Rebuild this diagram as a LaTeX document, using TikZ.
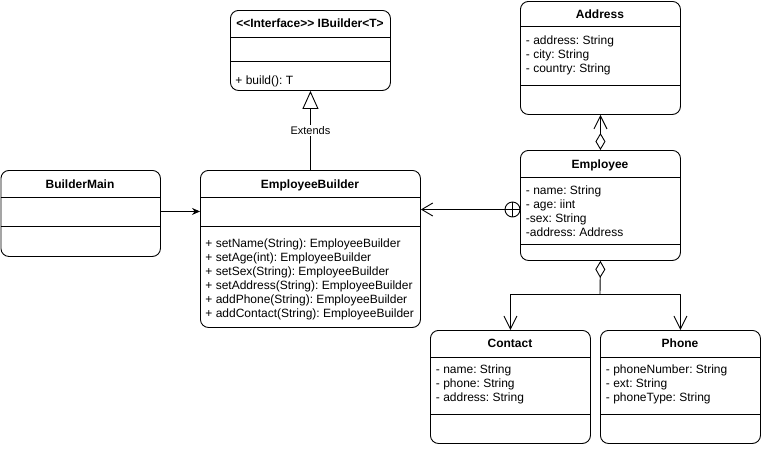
\documentclass[tikz,border=0pt]{standalone}
\usepackage{fontspec}
\setmainfont{Liberation Sans}
\usetikzlibrary{arrows.meta}
\frenchspacing
\begin{document}
\begin{tikzpicture}[x=1pt, y=-1pt, line width=0.9pt, line join=round, font=\fontsize{12}{14}\selectfont,
	cls/.style={draw, rounded corners=8pt, inner sep=0pt, anchor=north west},
	ttl/.style={anchor=base, font=\fontsize{12}{14}\selectfont\bfseries},
	body/.style={anchor=north west, inner sep=0pt, align=left, execute at begin node=\strut},
	openarr/.style={-{Straight Barb[length=13pt,width=13pt]}},
	agg/.style={{Diamond[open,length=17pt,width=10pt]}-},
	aggarr/.style={{Diamond[open,length=17pt,width=10pt]}-{Straight Barb[length=13pt,width=13pt]}}]
\useasboundingbox (0,0) rectangle (761,448);
% classes
\node[cls, minimum width=160pt, minimum height=80pt] (ibuilder) at (230,10) {};
\node[cls, minimum width=160pt, minimum height=113pt] (addr) at (520,1) {};
\node[cls, minimum width=160pt, minimum height=110pt] (emp) at (520,150) {};
\node[cls, minimum width=159.5pt, minimum height=86pt] (main) at (0.5,170) {};
\node[cls, minimum width=220pt, minimum height=157pt] (eb) at (200,170) {};
\node[cls, minimum width=160pt, minimum height=113pt] (contact) at (430,330) {};
\node[cls, minimum width=160pt, minimum height=113pt] (phone) at (600,330) {};
% compartments
\draw	(ibuilder.north west) ++(0,27) -- ++(160,0)	(ibuilder.north west) ++(0,51) -- ++(160,0);
\draw	(addr.north west) ++(0,25) -- ++(160,0)	(addr.north west) ++(0,84) -- ++(160,0);
\draw	(emp.north west) ++(0,27) -- ++(160,0)	(emp.north west) ++(0,94) -- ++(160,0);
\draw	(main.north west) ++(0,27) -- ++(159.5,0)	(main.north west) ++(0,56) -- ++(159.5,0);
\draw	(eb.north west) ++(0,27) -- ++(220,0)	(eb.north west) ++(0,56) -- ++(220,0);
\draw	(contact.north west) ++(0,27) -- ++(160,0)	(contact.north west) ++(0,84) -- ++(160,0);
\draw	(phone.north west) ++(0,27) -- ++(160,0)	(phone.north west) ++(0,84) -- ++(160,0);
% titles
\node[ttl] (ibuilderT) at (310,27.3) {<{}<Interface>{}> IBuilder<T>};
\node[ttl] (addrT) at (600,18.3) {Address};
\node[ttl] (empT) at (600,168.3) {Employee};
\node[ttl] (mainT) at (80,188.3) {BuilderMain};
\node[ttl] (ebT) at (310,188.3) {EmployeeBuilder};
\node[ttl] (contactT) at (510,347.3) {Contact};
\node[ttl] (phoneT) at (680,347.3) {Phone};
% members
\node[body] (ibuilderM) at (235,74) {+ build(): T};
\node[body] (addrA) at (525.5,35) {- address: String\\- city: String\\- country: String};
\node[body] (empA) at (525.5,185) {- name: String\\- age: iint\\-sex: String\\-address: Address};
\node[body] (ebM) at (205,238) {+ setName(String): EmployeeBuilder\\+ setAge(int): EmployeeBuilder\\+ setSex(String): EmployeeBuilder\\+ setAddress(String): EmployeeBuilder\\+ addPhone(String): EmployeeBuilder\\+ addContact(String): EmployeeBuilder};
\node[body] (contactA) at (435.5,364) {- name: String\\- phone: String\\- address: String};
\node[body] (phoneA) at (605.5,364) {- phoneNumber: String\\- ext: String\\- phoneType: String};
% relations
\draw[-{Triangle[open,length=18pt,width=16pt]}] (eb.north) -- node[fill=white, inner sep=1.5pt, font=\fontsize{11}{13}\selectfont] (ext) {Extends} (ibuilder.south);
\coordinate (mainout) at ([yshift=2pt]main.east);
\draw[-{Stealth[length=8pt,width=7pt]}] (mainout) -- (eb.west |- mainout);
\node[circle, draw, fill=white, minimum size=15pt, inner sep=0pt] (cplus) at (512.5,209.5) {};
\draw	(cplus.north) -- (cplus.south)	(cplus.west) -- (cplus.east);
\draw[-{Straight Barb[length=11pt,width=13pt]}] (cplus.west) -- (eb.east |- cplus.west);
\draw[aggarr] (emp.north) -- (addr.south);
\coordinate (fork) at (600,294);
\draw[agg] (emp.south) -- (fork);
\draw[openarr] (fork) -| (contact.north);
\draw[openarr] (fork) -| (phone.north);
\end{tikzpicture}
\end{document}
